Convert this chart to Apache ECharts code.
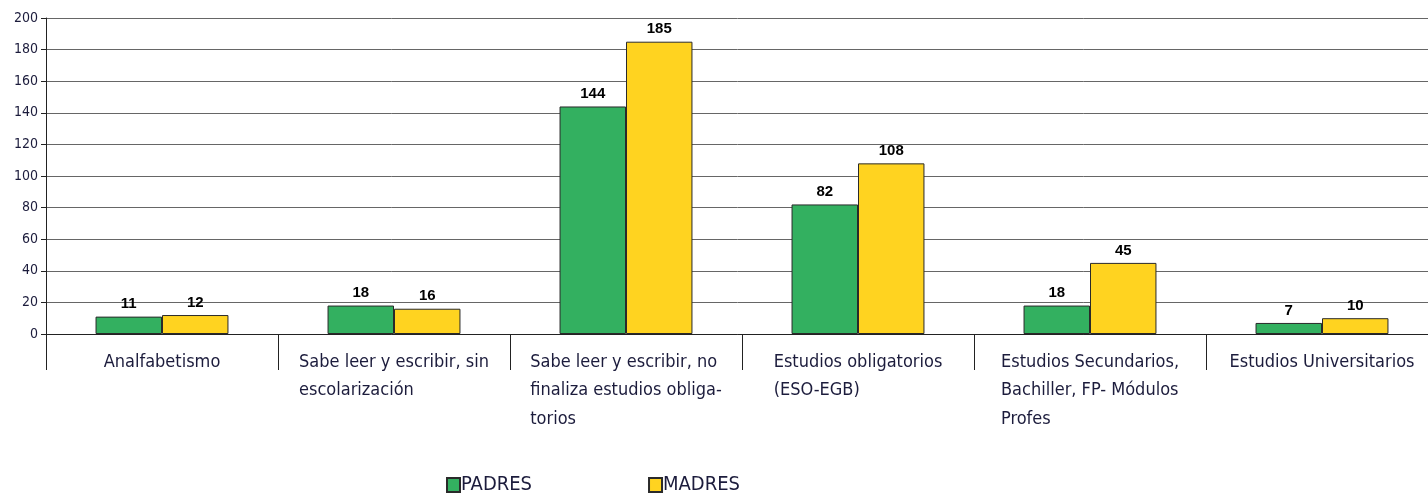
<!DOCTYPE html>
<html>
<head>
<meta charset="utf-8">
<script src="https://cdn.jsdelivr.net/npm/echarts@6/dist/echarts.min.js"></script>
<style>
  html, body { margin: 0; padding: 0; background: #fff; }
  #chart { width: 1428px; height: 493px; }
</style>
</head>
<body>
<div id="chart"></div>
<script>
// datos
const categorias = [
    'Analfabetismo',
    'Sabe leer y escribir, sin\nescolarización',
    'Sabe leer y escribir, no\nfinaliza estudios obliga-\ntorios',
    'Estudios obligatorios\n(ESO-EGB)',
    'Estudios Secundarios,\nBachiller, FP- Módulos\nProfes',
    'Estudios Universitarios'
];
const padres = [11, 18, 144, 82, 18, 7];
const madres = [12, 16, 185, 108, 45, 10];

const fuente = '"DejaVu Sans Condensed", "Liberation Sans Narrow", sans-serif';
const textoColor = '#1c1c3c';

const chart = echarts.init(document.getElementById('chart'));

const etiqueta = {
    show: true,
    position: 'top',
    color: '#000',
    fontWeight: 'bold',
    fontSize: 15,
    fontFamily: 'Arial, "Liberation Sans", sans-serif',
    distance: 5
};

const option = {
    animation: false,
    grid: { left: 46, width: 1392, top: 18, bottom: 159, containLabel: false, outerBoundsMode: 'none' },
    legend: {
        top: 470,
        left: 441,
        itemGap: 116,
        itemWidth: 13,
        itemHeight: 14,
        icon: 'rect',
        textStyle: { fontFamily: fuente, fontSize: 20, color: textoColor, padding: [0, 0, 0, -4] },
        data: ['PADRES', 'MADRES']
    },
    xAxis: {
        type: 'category',
        data: categorias,
        axisLine: { lineStyle: { color: '#222', width: 1 } },
        axisTick: { show: true, length: 36, interval: 0, lineStyle: { color: '#222' } },
        axisLabel: {
            interval: 0,
            margin: 14,
            fontFamily: fuente,
            fontSize: 18,
            lineHeight: 28.5,
            color: textoColor,
            formatter: v => '{a|' + v.split('\n').join('}\n{a|') + '}',
            rich: { a: { align: 'left', fontFamily: fuente, fontSize: 18, lineHeight: 28.5, color: textoColor } }
        }
    },
    yAxis: {
        type: 'value',
        min: 0,
        max: 200,
        interval: 20,
        axisLine: { show: true, lineStyle: { color: '#222' } },
        axisTick: { show: true, length: 5, lineStyle: { color: '#222' } },
        axisLabel: { fontFamily: fuente, fontSize: 14, color: textoColor, margin: 8 },
        splitLine: { lineStyle: { color: '#666', width: 1 } }
    },
    series: [
        {
            name: 'PADRES',
            type: 'bar',
            data: padres,
            barGap: '0%',
            barCategoryGap: '42.7%',
            itemStyle: { color: '#33b060', borderColor: '#2a2a2a', borderWidth: 1 },
            label: etiqueta
        },
        {
            name: 'MADRES',
            type: 'bar',
            data: madres,
            itemStyle: { color: '#ffd320', borderColor: '#2a2a2a', borderWidth: 1 },
            label: etiqueta
        }
    ]
};

chart.setOption(option);
</script>
</body>
</html>
